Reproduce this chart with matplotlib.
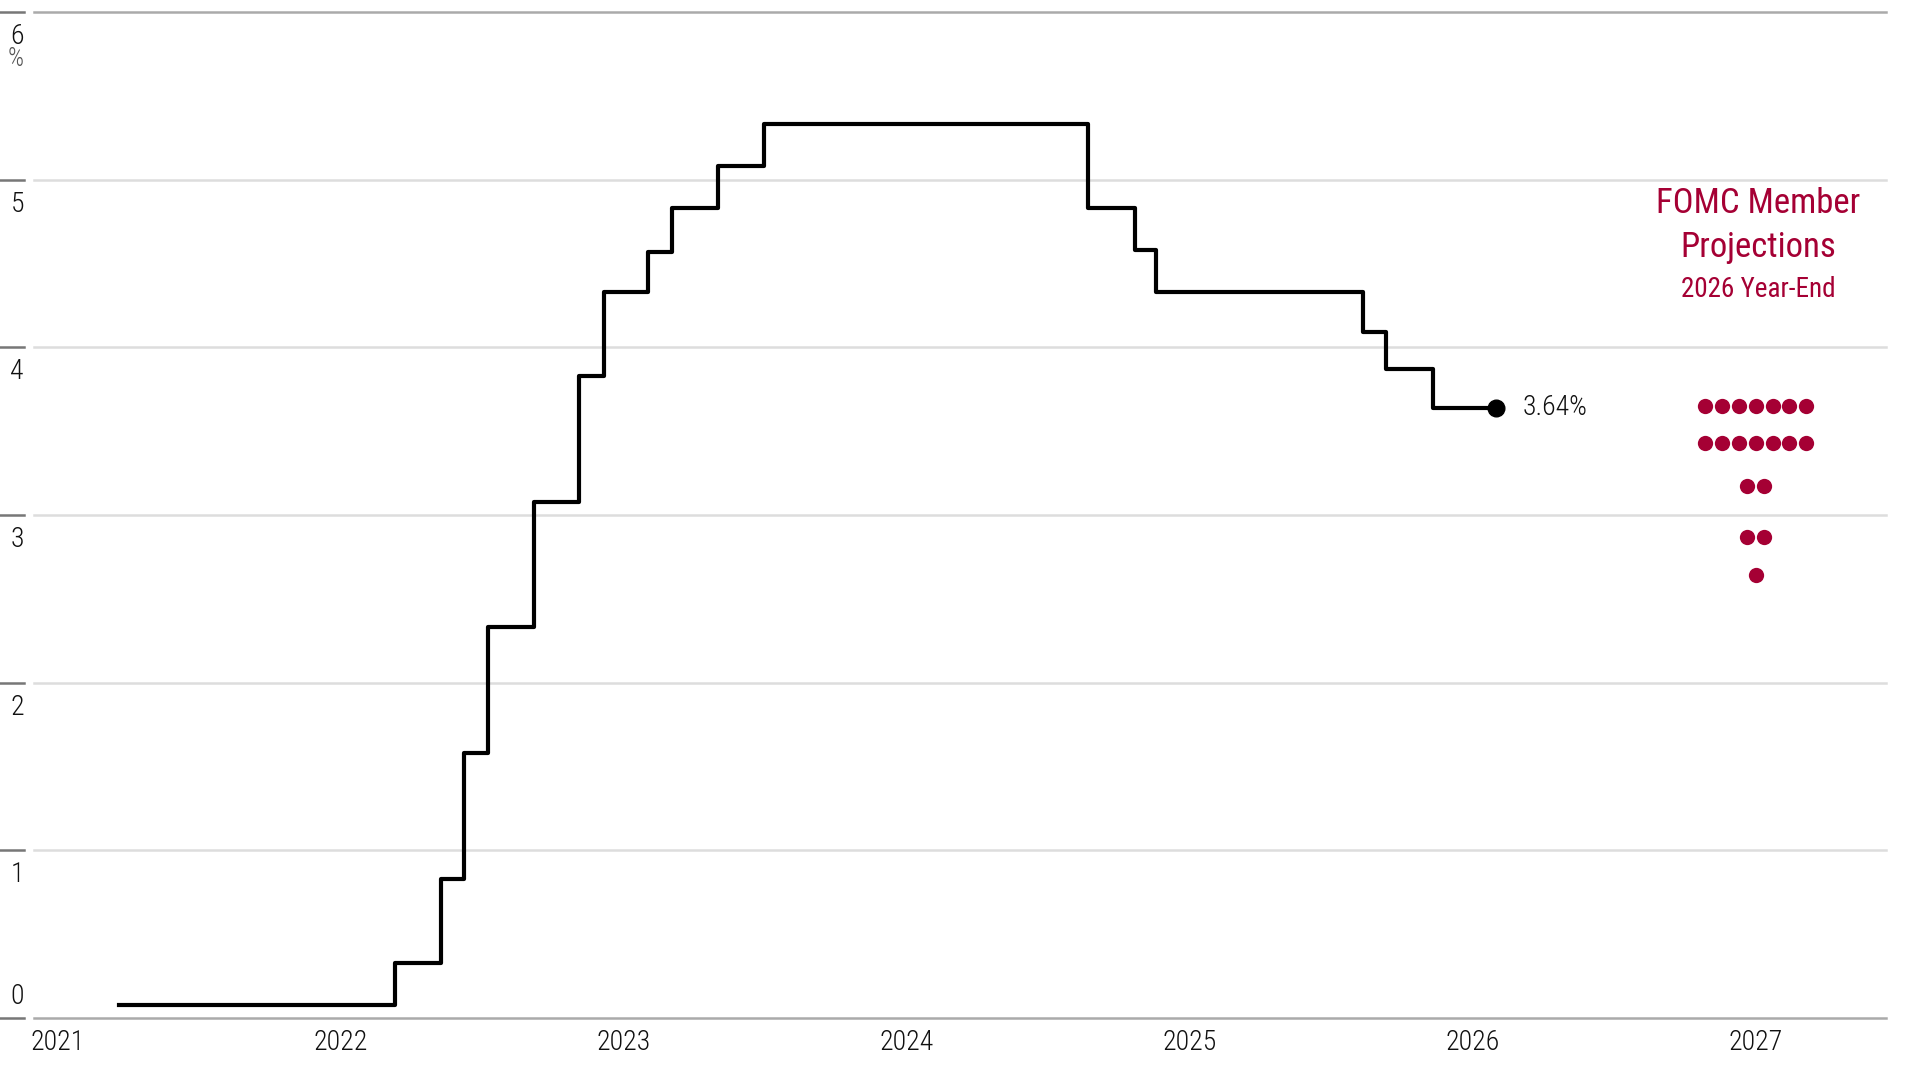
import numpy as np
import matplotlib
matplotlib.use("Agg")
import matplotlib.pyplot as plt
from matplotlib import font_manager as fm

# effective fed funds rate, step changes (decimal year, %)
step_x = [2021.216, 2022.192, 2022.356, 2022.438, 2022.521, 2022.685, 2022.844,
          2022.931, 2023.086, 2023.173, 2023.333, 2023.497, 2024.641, 2024.806,
          2024.883, 2025.613, 2025.695, 2025.860, 2026.084]
step_y = [0.08, 0.33, 0.83, 1.58, 2.33, 3.08, 3.83, 4.33, 4.57, 4.83, 5.08,
          5.33, 4.83, 4.58, 4.33, 4.09, 3.87, 3.64]
last_label = "3.64%"

# FOMC member projections for 2026 year-end
dot_levels = [3.65, 3.43, 3.17, 2.87, 2.64]
dot_counts = [7, 7, 2, 2, 1]
dot_year = 2027.0

years = [2021, 2022, 2023, 2024, 2025, 2026, 2027]
yticks = [0, 1, 2, 3, 4, 5, 6]


# look for a condensed face, the original uses a narrow font
def find_narrow(prefs):
    files = [f.fname for f in fm.fontManager.ttflist]
    for p in prefs:
        for fn in files:
            base = fn.lower().replace(' ', '').split('/')[-1]
            if p in base and 'bold' not in base and 'italic' not in base \
                    and 'oblique' not in base and 'black' not in base \
                    and 'medium' not in base and 'thin' not in base:
                return fn
    return None


common = ['opensans_condensed', 'opensanscondensed', 'liberationsansnarrow',
          'dejavusanscondensed.ttf', 'condensed', 'narrow']
light = find_narrow(['robotocondensed-light', 'robotocondensed-regular'] + common)
regular = find_narrow(['robotocondensed-regular', 'robotocondensed-light'] + common)


def fp(size, path=None):
    path = path or light
    if path:
        return fm.FontProperties(fname=path, size=size)
    return fm.FontProperties(family='DejaVu Sans', stretch='condensed', size=size)


red = '#a50034'
ink = '#111111'
W, H = 1917, 1080
fig = plt.figure(figsize=(W / 100, H / 100), dpi=100)
ax = fig.add_axes([34 / W, 1 - 1018 / H, (1886 - 34) / W, (1018 - 12) / H])
ax.set_xlim(2020.917, 2027.461)
ax.set_ylim(0, 6)
for s in ax.spines.values():
    s.set_visible(False)

# gridlines, ticks and labels on the left
ytr = ax.get_yaxis_transform()
for t in yticks:
    col = '#aaaaaa' if t in (0, 6) else '#dddddd'
    ax.axhline(t, color=col, lw=1.8, clip_on=False, zorder=1)
    ax.plot([-0.0184, -0.0054], [t, t], color='#777777', lw=1.8,
            transform=ytr, clip_on=False)
    if t == 0:
        ax.text(-0.0054, t + 0.05, str(t), transform=ytr, ha='right',
                va='bottom', fontproperties=fp(20), color=ink)
    else:
        ax.text(-0.0054, t - 0.065, str(t), transform=ytr, ha='right',
                va='top', fontproperties=fp(20), color=ink)
ax.text(-0.0054, 6 - 0.21, '%', transform=ytr, ha='right', va='top',
        fontproperties=fp(18), color='#555555')

ax.set_yticks([])
ax.set_xticks(years)
ax.set_xticklabels([str(y) for y in years], color=ink)
for lab in ax.get_xticklabels():
    lab.set_fontproperties(fp(20))
ax.tick_params(axis='x', length=0, pad=8)

# rate line
ys = step_y + [step_y[-1]]
ax.step(step_x, ys, where='post', color='black', lw=3, zorder=3)
ax.plot(step_x[-1], step_y[-1], 'o', color='black', markersize=12, zorder=4)
ax.text(step_x[-1] + 0.094, step_y[-1], last_label, fontproperties=fp(20),
        va='center', ha='left', color=ink)

# dots
sp = 0.06
for lvl, n in zip(dot_levels, dot_counts):
    dx = dot_year + (np.arange(n) - (n - 1) / 2) * sp
    ax.plot(dx, [lvl] * n, 'o', color=red, markersize=11, markeredgewidth=0,
            linestyle='none', zorder=4)

ax.text(dot_year + 0.01, 4.80, 'FOMC Member', color=red,
        fontproperties=fp(25, regular), ha='center', va='baseline')
ax.text(dot_year + 0.01, 4.54, 'Projections', color=red,
        fontproperties=fp(25, regular), ha='center', va='baseline')
ax.text(dot_year + 0.01, 4.30, '2026 Year-End', color=red,
        fontproperties=fp(19.5, regular), ha='center', va='baseline')

fig.savefig('out.png', dpi=100)
